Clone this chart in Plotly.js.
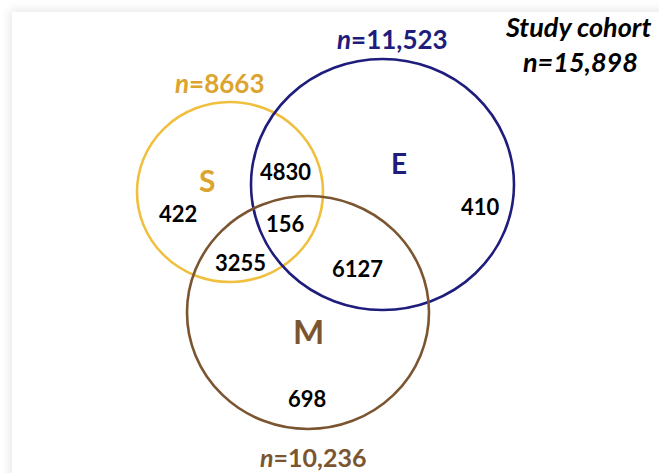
<!DOCTYPE html>
<html>
<head>
<meta charset="utf-8">
<script src="https://cdn.plot.ly/plotly-3.0.1.min.js"></script>
<style>
  html, body { margin:0; padding:0; background:#ffffff; width:659px; height:473px; overflow:hidden; }
  #card { position:absolute; left:12px; top:12px; width:700px; height:520px; background:#fff;
          box-shadow: -2px -2px 10px rgba(0,0,0,0.10); }
  #chart { position:absolute; left:0; top:0; width:659px; height:473px; }
</style>
</head>
<body>
<div id="card"></div>
<div id="chart"></div>
<script>
// ---- Data ----
const setNames = ['S', 'E', 'M'];
const setTotals = [8663, 11523, 10236];
const cohortTotal = 15898;
const regionNames = ['S only', 'S∩E', 'S∩E∩M', 'S∩M', 'E∩M', 'E only', 'M only'];
const regionCounts = [422, 4830, 156, 3255, 6127, 410, 698];

// ---- Layout geometry (pixel space) ----
const setColors = ['#F0BF3E', '#1E1C7C', '#7B5530'];
const setTextColors = ['#DCA42E', '#1E1C7C', '#7B5530'];
const setEllipses = [ // [x0, y0, x1, y1]
  [137, 102, 323, 282],
  [251, 59, 514, 310],
  [187, 196, 429, 429]
];
const setLetterPos = [[207, 180], [399, 163], [308, 331]];
const setLetterSize = [30, 28, 33];
const setTotalPos = [[219, 83], [392, 39], [313, 457]];
const setTotalSize = [26, 26, 25];
const regionPos = [[178, 213], [285, 171], [285, 223], [240, 262], [357, 268], [480, 206], [307, 398]];

function fmt(n) {
  return n >= 10000 ? n.toLocaleString('en-US') : String(n);
}

const FONT = 'Lato, "Open Sans", sans-serif';
const shapes = setEllipses.map((e, i) => ({
  type: 'circle', xref: 'x', yref: 'y',
  x0: e[0], y0: e[1], x1: e[2], y1: e[3],
  line: { color: setColors[i], width: 2.6 },
  fillcolor: 'rgba(0,0,0,0)'
}));

const annotations = [];
setNames.forEach((s, i) => {
  annotations.push({
    x: setLetterPos[i][0], y: setLetterPos[i][1], xref: 'x', yref: 'y',
    text: '<b>' + s + '</b>', showarrow: false,
    font: { family: FONT, size: setLetterSize[i], color: setTextColors[i] }
  });
  annotations.push({
    x: setTotalPos[i][0], y: setTotalPos[i][1], xref: 'x', yref: 'y',
    text: '<b><i>n</i>=' + fmt(setTotals[i]) + '</b>', showarrow: false,
    borderpad: 0,
    font: { family: FONT, size: setTotalSize[i], color: setTextColors[i] }
  });
});
regionCounts.forEach((c, i) => {
  annotations.push({
    x: regionPos[i][0], y: regionPos[i][1], xref: 'x', yref: 'y',
    text: '<b>' + c + '</b>', showarrow: false,
    font: { family: FONT, size: 22, color: '#000000' }
  });
});
annotations.push({
  x: 578, y: 26, xref: 'x', yref: 'y', showarrow: false,
  text: '<b><i>Study cohort</i></b>',
  font: { family: FONT, size: 27, color: '#000000' }
});
annotations.push({
  x: 580, y: 61, xref: 'x', yref: 'y', showarrow: false,
  text: '<b><i>n=' + fmt(cohortTotal) + '</i></b>',
  font: { family: FONT, size: 27, color: '#000000' }
});

const layout = {
  width: 659, height: 473,
  margin: { l: 0, r: 0, t: 0, b: 0 },
  paper_bgcolor: 'rgba(0,0,0,0)',
  plot_bgcolor: 'rgba(0,0,0,0)',
  xaxis: { range: [0, 659], visible: false, fixedrange: true },
  yaxis: { range: [473, 0], visible: false, fixedrange: true },
  showlegend: false,
  shapes: shapes,
  annotations: annotations
};

Plotly.newPlot('chart', [], layout, { staticPlot: true, displayModeBar: false });
</script>
</body>
</html>
